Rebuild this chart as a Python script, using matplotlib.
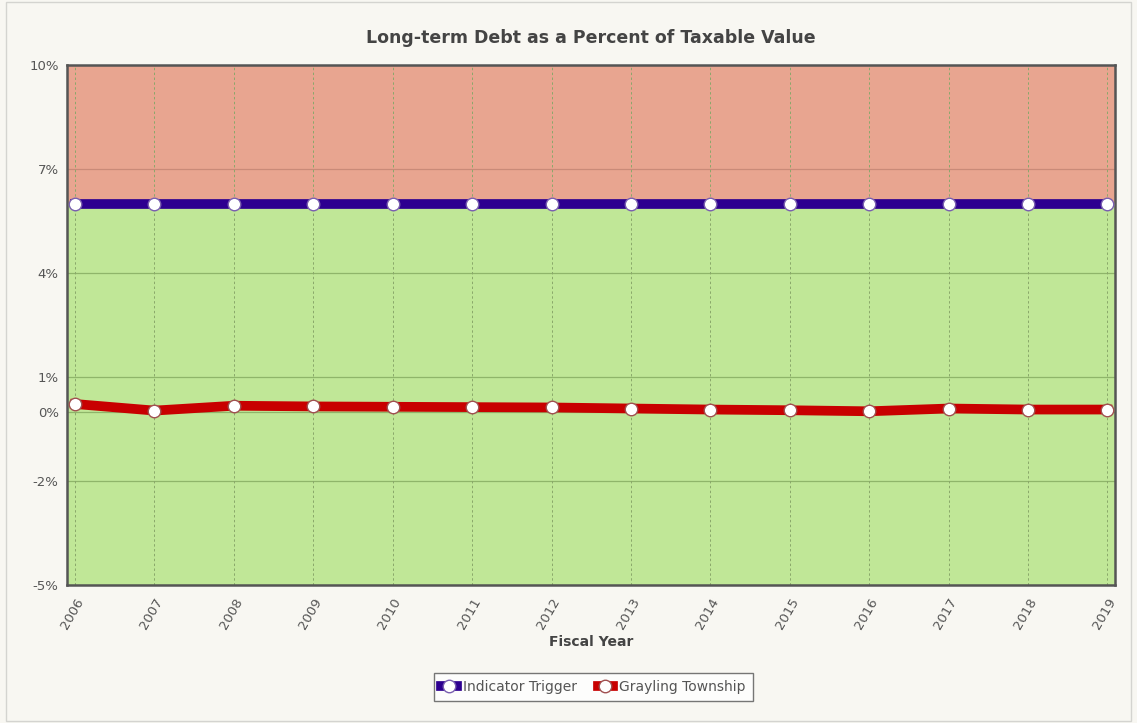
import numpy as np
import matplotlib.pyplot as plt
from matplotlib.patches import Rectangle

years = [2006, 2007, 2008, 2009, 2010, 2011, 2012, 2013, 2014, 2015, 2016, 2017, 2018, 2019]
indicator_trigger = [6, 6, 6, 6, 6, 6, 6, 6, 6, 6, 6, 6, 6, 6]
grayling = [0.22, 0.03, 0.17, 0.15, 0.14, 0.13, 0.12, 0.09, 0.06, 0.04, 0.01, 0.09, 0.06, 0.06]
y_ticks = [10, 7, 4, 1, 0, -2, -5]

fig = plt.figure(figsize=(11.37, 7.23), dpi=100)
fig.patch.set_facecolor('#f8f7f2')
fig.patches.append(Rectangle((0.005, 0.003), 0.99, 0.994, transform=fig.transFigure,
                             fill=False, edgecolor='#d4d4d0', linewidth=1))

ax = fig.add_axes([0.059, 0.191, 0.922, 0.719])
ax.set_xlim(years[0] - 0.1, years[-1] + 0.1)
ax.set_ylim(-5, 10)

# zones
ax.axhspan(6, 10, color='#e8a590', zorder=0)
ax.axhspan(-5, 6, color='#c0e797', zorder=0)

for y in y_ticks:
    ax.axhline(y, color='#8fb56a' if y < 6 else '#c98a78', linewidth=0.9, zorder=1)
for x in years:
    ax.axvline(x, color='#8aa86a', linestyle=(0, (2.5, 2.5)), linewidth=0.7, zorder=1)

ax.plot(years, indicator_trigger, color='#2d0090', linewidth=7, marker='o',
        markersize=9, markerfacecolor='white', markeredgecolor='#7a5fb0',
        markeredgewidth=1, label='Indicator Trigger', zorder=3)
ax.plot(years, grayling, color='#c80000', linewidth=7, marker='o',
        markersize=9, markerfacecolor='white', markeredgecolor='#a05050',
        markeredgewidth=1, label='Grayling Township', zorder=4)

ax.set_yticks(y_ticks)
ax.set_yticklabels([f'{t}%' for t in y_ticks])
ax.set_xticks(years)
ax.set_xticklabels([str(y) for y in years], rotation=60, ha='right', rotation_mode='anchor')
ax.tick_params(axis='both', length=0, colors='#555555', labelsize=9.5)
ax.tick_params(axis='x', pad=8)
ax.tick_params(axis='y', pad=6)
for s in ax.spines.values():
    s.set_color('#555555')
    s.set_linewidth(1.8)

ax.set_xlabel('Fiscal Year', fontsize=10, fontweight='bold', color='#444444', labelpad=2)
fig.text(0.52, 0.948, 'Long-term Debt as a Percent of Taxable Value', ha='center',
         va='center', fontsize=12.5, fontweight='bold', color='#444444')

leg = fig.legend(loc='center', bbox_to_anchor=(0.522, 0.05), ncol=2, frameon=True,
                 fancybox=False, edgecolor='#555555', facecolor='white', fontsize=10,
                 handlelength=1.1, handletextpad=0.45, columnspacing=1.5, borderpad=0.5)
leg.get_frame().set_linewidth(1)
for t in leg.get_texts():
    t.set_color('#555555')

fig.savefig('out.png', dpi=100, facecolor=fig.get_facecolor())
